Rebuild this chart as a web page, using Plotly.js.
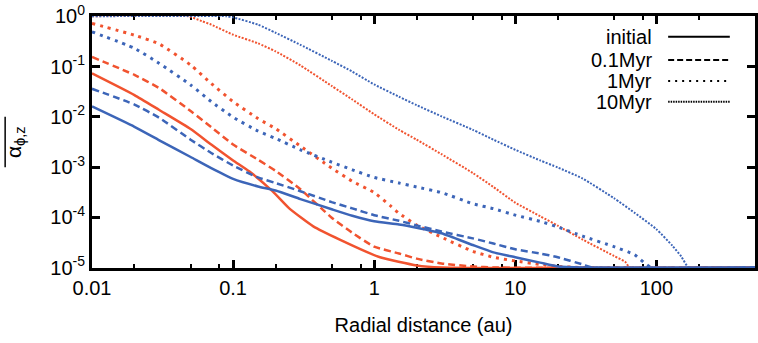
<!DOCTYPE html>
<html>
<head>
<meta charset="utf-8">
<script src="https://cdn.plot.ly/plotly-3.0.1.min.js"></script>
<style>
html, body { margin: 0; padding: 0; background: #fff; }
#alpha_plot { width: 758px; height: 343px; }
</style>
</head>
<body>
<div id="alpha_plot"></div>
<script>
// radial distance (au) and alpha values
var rInitBlue = [0.01, 0.02, 0.03, 0.05, 0.07, 0.1, 0.15, 0.2, 0.3, 0.5, 0.7, 1, 1.5, 2, 3, 5, 7, 10, 15, 20, 30, 500];
var aInitBlue = [0.016, 0.0063, 0.0034, 0.00158, 0.00095, 0.00058, 0.00041, 0.00034, 0.00023, 0.000144, 0.000107, 0.000083, 0.000072, 0.000062, 0.000048, 0.000028, 0.00002, 0.000016, 0.0000125, 0.0000105, 0.00001, 0.00001];

var rInitRed = [0.01, 0.02, 0.03, 0.05, 0.07, 0.1, 0.13, 0.19, 0.25, 0.37, 0.57, 1.1, 2, 3, 500];
var aInitRed = [0.073, 0.027, 0.0136, 0.0057, 0.0028, 0.00135, 0.00082, 0.00033, 0.00015, 0.000066, 0.000036, 0.000016, 0.000011, 0.00001, 0.00001];

var r01Blue = [0.01, 0.02, 0.03, 0.05, 0.07, 0.1, 0.15, 0.2, 0.3, 0.5, 0.7, 1, 1.5, 2, 3, 5, 7, 10, 15, 20, 30, 35, 500];
var a01Blue = [0.036, 0.0175, 0.0095, 0.0035, 0.0019, 0.00107, 0.00062, 0.00048, 0.00033, 0.0002, 0.00015, 0.00011, 0.000085, 0.000069, 0.000052, 0.000038, 0.00003, 0.000023, 0.000019, 0.000016, 0.0000115, 0.00001, 0.00001];

var r01Red = [0.01, 0.02, 0.03, 0.05, 0.07, 0.1, 0.15, 0.2, 0.3, 0.5, 0.7, 1, 1.5, 2, 3, 5, 7, 500];
var a01Red = [0.155, 0.068, 0.037, 0.013, 0.0062, 0.0028, 0.0014, 0.00084, 0.00036, 0.000098, 0.000049, 0.000026, 0.000019, 0.000015, 0.000012, 0.0000105, 0.00001, 0.00001];

var r1Blue = [0.01, 0.02, 0.03, 0.05, 0.07, 0.1, 0.15, 0.2, 0.3, 0.5, 0.7, 1, 1.5, 2, 3, 5, 7, 10, 15, 20, 30, 50, 70, 92, 500];
var a1Blue = [0.49, 0.23, 0.115, 0.043, 0.02, 0.0098, 0.0052, 0.0037, 0.0022, 0.00125, 0.00088, 0.00062, 0.00048, 0.0004, 0.00031, 0.000186, 0.000148, 0.00011, 0.000083, 0.000064, 0.000042, 0.000026, 0.000018, 0.00001, 0.00001];

var r1Red = [0.01, 0.02, 0.03, 0.05, 0.07, 0.1, 0.15, 0.2, 0.3, 0.5, 0.7, 1, 1.3, 1.5, 2, 3, 5, 7, 10, 15, 20, 30, 500];
var a1Red = [0.72, 0.42, 0.28, 0.107, 0.046, 0.02, 0.0092, 0.0058, 0.0026, 0.00095, 0.00052, 0.00031, 0.00017, 0.00012, 0.00007, 0.00004, 0.000021, 0.000016, 0.0000135, 0.0000115, 0.0000105, 0.00001, 0.00001];

var r10Blue = [0.01, 0.09, 0.1, 0.15, 0.2, 0.3, 0.5, 0.7, 1, 1.5, 2, 3, 5, 7, 10, 15, 20, 30, 50, 70, 100, 130, 150, 170, 500];
var a10Blue = [1, 1, 0.95, 0.68, 0.47, 0.27, 0.13, 0.079, 0.044, 0.025, 0.017, 0.0102, 0.0055, 0.0035, 0.0022, 0.00135, 0.00098, 0.00059, 0.00024, 0.000123, 0.000058, 0.000027, 0.0000166, 0.00001, 0.00001];

var r10Red = [0.01, 0.048, 0.06, 0.07, 0.1, 0.15, 0.2, 0.3, 0.5, 0.7, 1, 1.5, 2, 3, 5, 7, 10, 15, 20, 30, 50, 60, 65, 500];
var a10Red = [1, 1, 0.8, 0.68, 0.43, 0.29, 0.2, 0.105, 0.041, 0.022, 0.0112, 0.0055, 0.0035, 0.0018, 0.00076, 0.0004, 0.000195, 0.000105, 0.000068, 0.000036, 0.000017, 0.000013, 0.00001, 0.00001];

var legendNames = ['initial', '0.1Myr', '1Myr', '10Myr'];

var xTickVals = [0.01, 0.1, 1, 10, 100];
var xTickText = ['0.01', '0.1', '1', '10', '100'];
var xMinorVals = [0.02, 0.05, 0.08, 0.2, 0.5, 0.8, 2, 5, 8, 20, 50, 80, 200];
var yTickVals = [1e-5, 1e-4, 1e-3, 1e-2, 1e-1, 1];
var yTickText = ['10<sup>-5</sup>', '10<sup>-4</sup>', '10<sup>-3</sup>', '10<sup>-2</sup>', '10<sup>-1</sup>', '10<sup>0</sup>'];

var BLUE = '#3c65b8';
var RED = '#f1532f';
var FONT = 'Liberation Sans, Arial, Helvetica, sans-serif';

// dash pattern and width per epoch
var styles = [
	{dash: 'solid', width: 2.5},
	{dash: '7px,4px', width: 2.5},
	{dash: '3px,5px', width: 3},
	{dash: '2px,1.5px', width: 2}
];

function curve(x, y, color, k) {
	return {
		x: x, y: y,
		type: 'scatter', mode: 'lines',
		line: {color: color, dash: styles[k].dash, width: styles[k].width, shape: 'spline', smoothing: 0.5},
		showlegend: false, hoverinfo: 'skip'
	};
}

var data = [
	curve(r10Red, a10Red, RED, 3),
	curve(r1Red, a1Red, RED, 2),
	curve(r01Red, a01Red, RED, 1),
	curve(rInitRed, aInitRed, RED, 0),
	curve(r10Blue, a10Blue, BLUE, 3),
	curve(r1Blue, a1Blue, BLUE, 2),
	curve(r01Blue, a01Blue, BLUE, 1),
	curve(rInitBlue, aInitBlue, BLUE, 0)
];

// hand-made legend: text on the left, black sample line on the right
var legendY = [0.918, 0.825, 0.742, 0.660];
var legendDash = ['solid', '6px,3px', '2px,5px', '1.5px,1px'];
var annotations = [];
var shapes = [];
legendNames.forEach(function (name, i) {
	annotations.push({
		xref: 'paper', yref: 'paper', x: 0.847, y: legendY[i],
		xanchor: 'right', yanchor: 'middle', showarrow: false,
		text: name, font: {family: FONT, size: 20, color: '#000'}
	});
	shapes.push({
		type: 'line', xref: 'paper', yref: 'paper',
		x0: 0.869, x1: 0.962, y0: legendY[i], y1: legendY[i],
		line: {color: '#000', dash: legendDash[i], width: 2}
	});
});

// y title with overline
annotations.push({
	xref: 'paper', yref: 'paper', x: -0.116, y: 0.5,
	xanchor: 'center', yanchor: 'middle', showarrow: false, textangle: -90,
	text: 'α<sub>ϕ,z</sub>', font: {family: FONT, size: 21, color: '#000'}
});
shapes.push({
	type: 'line', xref: 'paper', yref: 'paper',
	x0: -0.131, x1: -0.131, y0: 0.40, y1: 0.60,
	line: {color: '#000', width: 1.5}
});

var axisBase = {
	type: 'log',
	showline: true, linecolor: '#000', linewidth: 3,
	mirror: 'allticks',
	ticks: 'inside', ticklen: 8, tickwidth: 2.5, tickcolor: '#000',
	showgrid: false, zeroline: false,
	tickfont: {family: FONT, size: 20, color: '#000'},
	tickmode: 'array',
	layer: 'below traces'
};

var layout = {
	width: 758, height: 343,
	margin: {l: 92, r: 3, t: 16, b: 75},
	paper_bgcolor: '#fff', plot_bgcolor: '#fff',
	showlegend: false,
	xaxis: Object.assign({}, axisBase, {
		range: [-2, Math.log10(500)],
		tickvals: xTickVals, ticktext: xTickText,
		minor: {tickmode: 'array', tickvals: xMinorVals, ticks: 'inside', ticklen: 4, tickwidth: 2, tickcolor: '#000'},
		title: {text: 'Radial distance (au)', font: {family: FONT, size: 20, color: '#000'}, standoff: 20}
	}),
	yaxis: Object.assign({}, axisBase, {
		range: [-5.01, 0.005],
		tickvals: yTickVals, ticktext: yTickText
	}),
	annotations: annotations,
	shapes: shapes
};

Plotly.newPlot('alpha_plot', data, layout, {displayModeBar: false});
</script>
</body>
</html>
